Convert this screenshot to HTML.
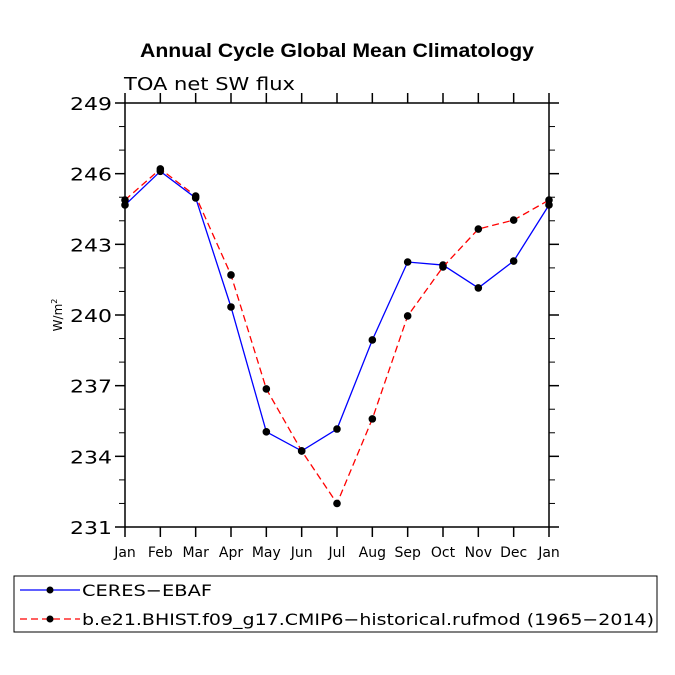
<!DOCTYPE html>
<html><head><meta charset="utf-8"><style>body{margin:0;background:#fff}svg{display:block}</style></head>
<body>
<svg width="675" height="675" viewBox="0 0 675 675" xmlns="http://www.w3.org/2000/svg" font-family="Liberation Sans, DejaVu Sans, sans-serif">
<text x="140" y="57" font-size="19" font-weight="bold" textLength="394" lengthAdjust="spacingAndGlyphs">Annual Cycle Global Mean Climatology</text>
<text x="124" y="90" font-size="18" font-family="DejaVu Sans, sans-serif" textLength="171" lengthAdjust="spacingAndGlyphs">TOA net SW flux</text>
<text transform="translate(62,315) rotate(-90)" text-anchor="middle" font-size="12" font-family="DejaVu Sans, sans-serif">W/m<tspan font-size="8" dy="-5">2</tspan></text>
<g id="axes"></g>
<g id="series"></g>
<g>
<rect x="14" y="576" width="643" height="56" fill="#fff" stroke="#000" stroke-width="1"/>
<g>
<line x1="20" y1="590" x2="80" y2="590" stroke="#0000ff" stroke-width="1.3"/>
<circle cx="50" cy="590" r="3.5" fill="#000"/>
<text x="82" y="596" font-size="16" font-family="DejaVu Sans, sans-serif" textLength="130" lengthAdjust="spacingAndGlyphs">CERES−EBAF</text></g>
<g>
<line x1="20" y1="619" x2="80" y2="619" stroke="#ff0000" stroke-width="1.3" stroke-dasharray="7,4"/>
<circle cx="50" cy="619" r="3.5" fill="#000"/>
<text x="82" y="625" font-size="16" font-family="DejaVu Sans, sans-serif" textLength="572" lengthAdjust="spacingAndGlyphs">b.e21.BHIST.f09_g17.CMIP6−historical.rufmod (1965−2014)</text></g>
</g>
</svg>
<script>
const months=["Jan","Feb","Mar","Apr","May","Jun","Jul","Aug","Sep","Oct","Nov","Dec","Jan"];
const ceres=[244.67,246.1,244.97,240.34,235.04,234.23,235.16,238.94,242.25,242.12,241.15,242.29,244.67];
const model=[244.88,246.2,245.05,241.7,236.86,234.23,232.0,235.59,239.96,242.04,243.65,244.03,244.88];
const yTicks=[231,234,237,240,243,246,249];
const NS="http://www.w3.org/2000/svg";
const L=125,R=549,T=103,B=527,ymin=231,ymax=249;
const xs=i=>L+(R-L)*i/(months.length-1);
const ys=v=>B-(v-ymin)/(ymax-ymin)*(B-T);
function mk(t,a,p){const e=document.createElementNS(NS,t);for(const k in a)e.setAttribute(k,a[k]);p.appendChild(e);return e;}
const ax=document.getElementById('axes');
const fr=mk('rect',{x:L,y:T,width:R-L,height:B-T,fill:'none',stroke:'#000','stroke-width':1.5},ax);


for(let v=ymin;v<=ymax;v++){const maj=(v-ymin)%3===0;const len=maj?10:6;const y=ys(v);
 mk('line',{x1:L-len,y1:y,x2:L,y2:y,stroke:'#000','stroke-width':maj?1.5:1},ax);
 mk('line',{x1:R,y1:y,x2:R+len,y2:y,stroke:'#000','stroke-width':maj?1.5:1},ax);}
yTicks.forEach(v=>{const t=mk('text',{x:L-13,y:ys(v)+7,'text-anchor':'end','font-size':18,'font-family':'DejaVu Sans, sans-serif',textLength:42,lengthAdjust:'spacingAndGlyphs'},ax);t.textContent=v;
 
 });
months.forEach((m,i)=>{const x=xs(i);
 mk('line',{x1:x,y1:B,x2:x,y2:B+10,stroke:'#000','stroke-width':1.5},ax);
 mk('line',{x1:x,y1:T-10,x2:x,y2:T,stroke:'#000','stroke-width':1.5},ax);
 const t=mk('text',{x:x,y:B+30,'text-anchor':'middle','font-size':14,'font-family':'DejaVu Sans, sans-serif'},ax);t.textContent=m;
 
 });
const sg=document.getElementById('series');
function draw(vals,color,dash,name){
 const g=mk('g',{},sg);
 
 
 const pts=vals.map((v,i)=>xs(i)+','+ys(v)).join(' ');
 const a={points:pts,fill:'none',stroke:color,'stroke-width':1.3};if(dash)a['stroke-dasharray']=dash;
 mk('polyline',a,g);
 vals.forEach((v,i)=>{const c=mk('circle',{cx:xs(i),cy:ys(v),r:3.8,fill:'#000'},g);
  
  });
}
draw(ceres,'#0000ff',null,'series-ceres');
draw(model,'#ff0000','7,4','series-model');
</script>
</body></html>
